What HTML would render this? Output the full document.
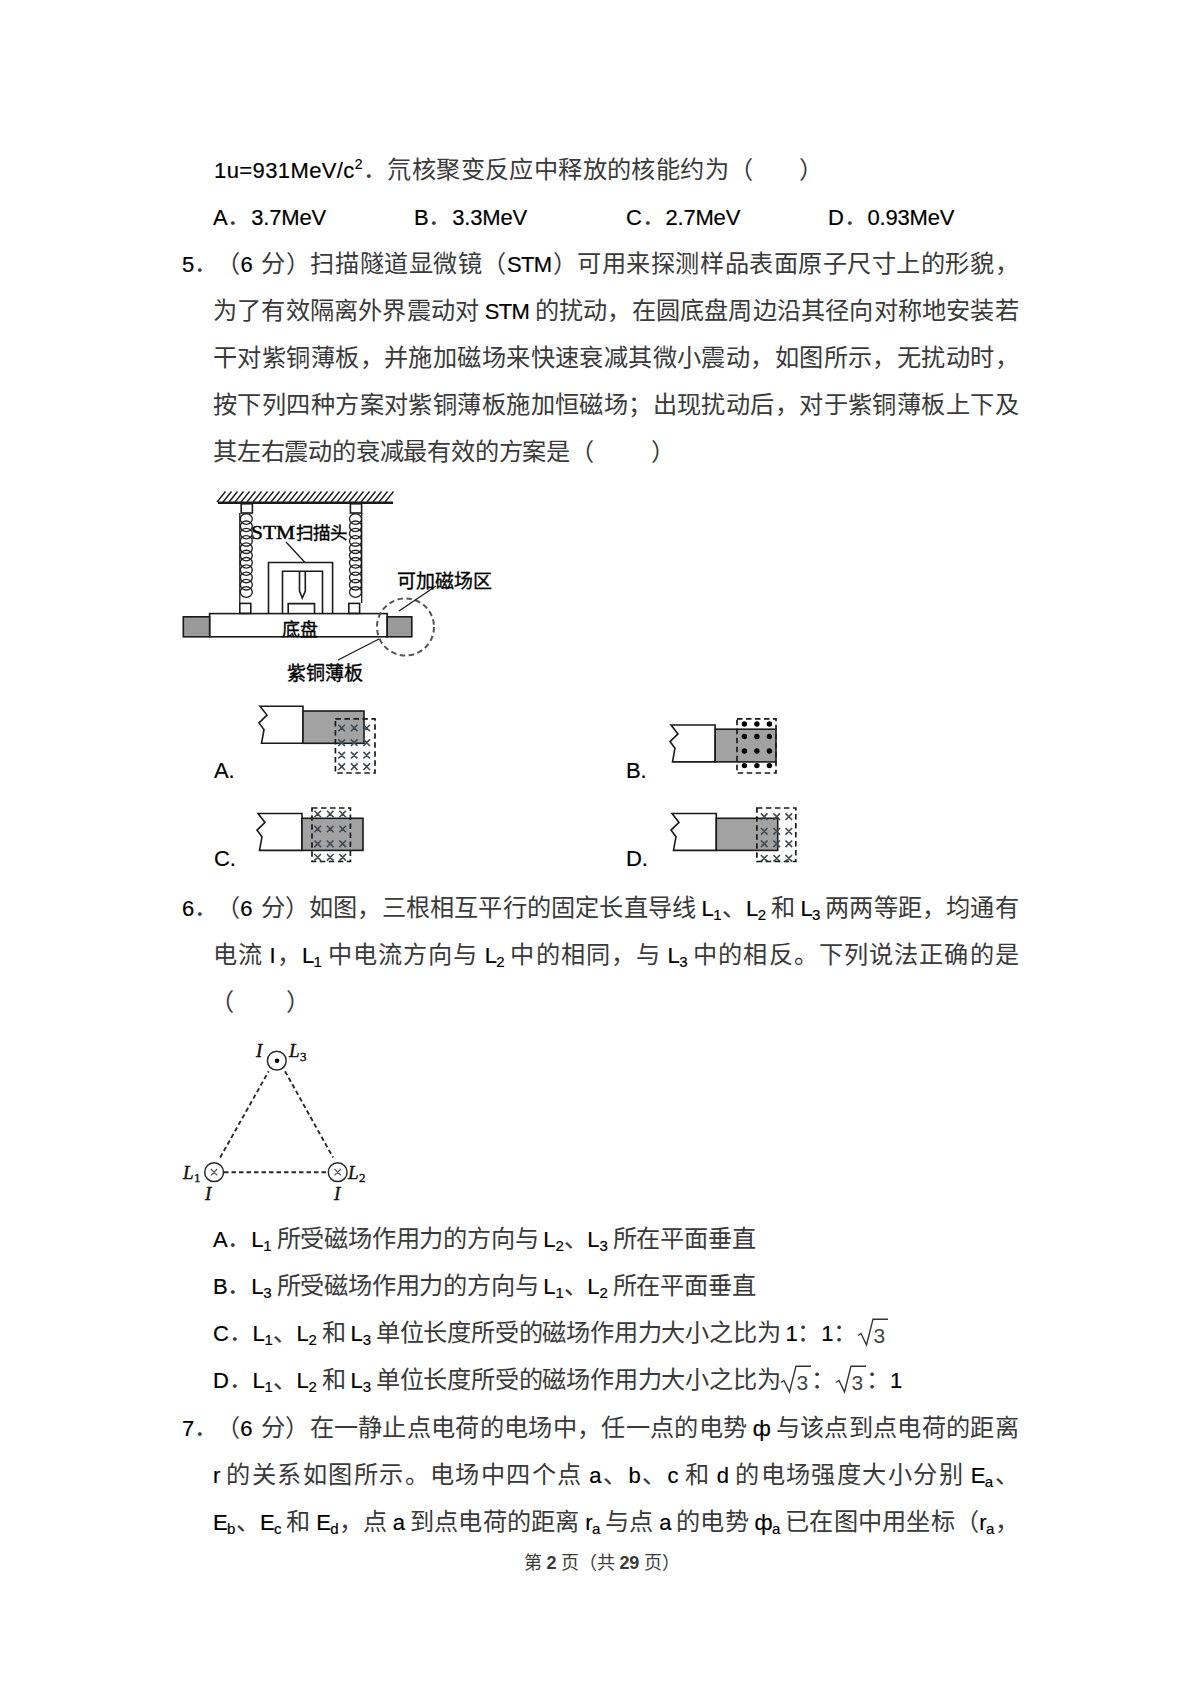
<!DOCTYPE html>
<html lang="zh-CN"><head><meta charset="utf-8">
<style>
html,body{margin:0;padding:0;background:#fff;}
body{width:1200px;height:1698px;position:relative;overflow:hidden;font-family:"Liberation Sans",sans-serif;color:#3a3a3a;}
.l{position:absolute;white-space:nowrap;font-size:24.2px;line-height:30px;word-spacing:-1.5px;letter-spacing:-0.2px;}
.e{font-size:22px;color:#000;-webkit-text-stroke:0.2px #000;}
.s{font-size:15px;vertical-align:-4px;}
.rad{position:static;display:inline-block;vertical-align:-6px;}
.p{font-size:14px;position:relative;top:-9px;}
.k{text-align:justify;text-align-last:justify;}
.j{width:805px;letter-spacing:-0.6px;text-align:justify;text-align-last:justify;white-space:nowrap;}
svg{position:absolute;left:0;top:0;}
</style></head><body>
<div class="l k" id="t1" style="left:214px;top:155px;letter-spacing:0.4px;width:609.79px"><span class="e">1u=931MeV/c<span class="p">2</span></span>．氘核聚变反应中释放的核能约为（<span style="display:inline-block;width:46px"></span>）</div>
<div class="l k" style="left:213px;top:202px;width:112.93px"><span class="e">A</span>．<span class="e">3.7MeV</span></div>
<div class="l k" style="left:414px;top:202px;width:112.93px"><span class="e">B</span>．<span class="e">3.3MeV</span></div>
<div class="l k" style="left:626px;top:202px;width:114.15px"><span class="e">C</span>．<span class="e">2.7MeV</span></div>
<div class="l k" style="left:828px;top:202px;width:126.18px"><span class="e">D</span>．<span class="e">0.93MeV</span></div>
<div class="l k" style="left:182px;top:249px;width:35.86px"><span class="e">5</span>．</div>
<div class="l j" style="left:216px;top:249px;width:802px">（<span class="e">6</span><i style="display:inline-block;width:8px"></i>分）扫描隧道显微镜（<span class="e">STM</span>）可用来探测样品表面原子尺寸上的形貌，</div>
<div class="l j" style="left:213px;top:296px">为了有效隔离外界震动对 <span class="e">STM</span> 的扰动，在圆底盘周边沿其径向对称地安装若</div>
<div class="l j" style="left:213px;top:343px">干对紫铜薄板，并施加磁场来快速衰减其微小震动，如图所示，无扰动时，</div>
<div class="l j" style="left:213px;top:390px">按下列四种方案对紫铜薄板施加恒磁场；出现扰动后，对于紫铜薄板上下及</div>
<div class="l k" style="left:213px;top:437px;width:461.63px">其左右震动的衰减最有效的方案是（<span style="display:inline-block;width:57px"></span>）</div>

<svg width="1200" height="1698" viewBox="0 0 1200 1698">
<g fill="none" stroke="#1a1a1a" stroke-width="1.6">
<path d="M217.0,502L225.5,491.5M223.0,502L231.5,491.5M229.0,502L237.5,491.5M235.0,502L243.5,491.5M241.0,502L249.5,491.5M247.0,502L255.5,491.5M253.0,502L261.5,491.5M259.0,502L267.5,491.5M265.0,502L273.5,491.5M271.0,502L279.5,491.5M277.0,502L285.5,491.5M283.0,502L291.5,491.5M289.0,502L297.5,491.5M295.0,502L303.5,491.5M301.0,502L309.5,491.5M307.0,502L315.5,491.5M313.0,502L321.5,491.5M319.0,502L327.5,491.5M325.0,502L333.5,491.5M331.0,502L339.5,491.5M337.0,502L345.5,491.5M343.0,502L351.5,491.5M349.0,502L357.5,491.5M355.0,502L363.5,491.5M361.0,502L369.5,491.5M367.0,502L375.5,491.5M373.0,502L381.5,491.5M379.0,502L387.5,491.5M385.0,502L393.5,491.5" stroke-width="1.4"/>
<path d="M218,502.8H393" stroke-width="2.4"/>
<rect x="241.2" y="503.8" width="11.2" height="9.2"/>
<rect x="350.4" y="503.8" width="11.2" height="9.2"/>
<rect x="239.8" y="603.4" width="11" height="10"/>
<rect x="348.8" y="603.4" width="10.8" height="10"/>
<g stroke="#222" stroke-width="1.35"><ellipse cx="246.3" cy="519.0" rx="6" ry="5.3"/><ellipse cx="246.3" cy="526.3" rx="6" ry="5.3"/><ellipse cx="246.3" cy="533.6" rx="6" ry="5.3"/><ellipse cx="246.3" cy="540.9" rx="6" ry="5.3"/><ellipse cx="246.3" cy="548.2" rx="6" ry="5.3"/><ellipse cx="246.3" cy="555.5" rx="6" ry="5.3"/><ellipse cx="246.3" cy="562.8" rx="6" ry="5.3"/><ellipse cx="246.3" cy="570.1" rx="6" ry="5.3"/><ellipse cx="246.3" cy="577.4" rx="6" ry="5.3"/><ellipse cx="246.3" cy="584.7" rx="6" ry="5.3"/><ellipse cx="246.3" cy="592.0" rx="6" ry="5.3"/><ellipse cx="355.5" cy="519.0" rx="6" ry="5.3"/><ellipse cx="355.5" cy="526.3" rx="6" ry="5.3"/><ellipse cx="355.5" cy="533.6" rx="6" ry="5.3"/><ellipse cx="355.5" cy="540.9" rx="6" ry="5.3"/><ellipse cx="355.5" cy="548.2" rx="6" ry="5.3"/><ellipse cx="355.5" cy="555.5" rx="6" ry="5.3"/><ellipse cx="355.5" cy="562.8" rx="6" ry="5.3"/><ellipse cx="355.5" cy="570.1" rx="6" ry="5.3"/><ellipse cx="355.5" cy="577.4" rx="6" ry="5.3"/><ellipse cx="355.5" cy="584.7" rx="6" ry="5.3"/><ellipse cx="355.5" cy="592.0" rx="6" ry="5.3"/></g>
<path d="M239.8,513V603M361.7,513V603" stroke-width="1.3"/>
<path d="M268.5,613.5V562.5H332.6V613.5"/>
<path d="M282.5,613.5V571.2H322.5V613.5"/>
<path d="M299.5,572V591L302.3,598L305.3,591V572"/>
<path d="M288.2,613.5V603.6H314.5V613.5"/>
<path d="M286,542L305,562.5" stroke-width="1.3"/>
<rect x="209.6" y="613.6" width="177.6" height="23.2"/>
<rect x="183.3" y="616.8" width="26.3" height="20" fill="#9a9a9a"/>
<rect x="387.2" y="616.8" width="24.6" height="20" fill="#9a9a9a"/>
<circle cx="405.5" cy="627" r="28.5" stroke="#555" stroke-width="2" stroke-dasharray="5.5 3.5"/>
<path d="M399,611L436,586M338,660L379,639" stroke-width="1.3"/>
</g>
<g font-family="Liberation Serif" fill="#000" stroke="#000" stroke-width="0.5">
<text x="251" y="539" font-size="19" textLength="44" lengthAdjust="spacingAndGlyphs">STM</text>
</g>
<g font-family="Liberation Sans" fill="#000" font-size="17.5" stroke="#000" stroke-width="0.35">
<text x="296" y="539" textLength="51" lengthAdjust="spacing">扫描头</text>
<text x="282" y="636" font-size="18" textLength="36" lengthAdjust="spacing">底盘</text>
<text x="287" y="680" font-size="19" textLength="76" lengthAdjust="spacing">紫铜薄板</text>
<text x="397" y="588" font-size="19" textLength="95" lengthAdjust="spacing">可加磁场区</text>
</g>
</svg>
<svg width="1200" height="1698" viewBox="0 0 1200 1698"><g stroke="#1a1a1a" stroke-width="1.6" fill="none"><path d="M260.0,706.2 L267.0,715.1 L259.0,722.9 L264.0,729.6 L261.5,743.3 H303.0 V706.2 Z" fill="#fff"/><rect x="303.0" y="711.0" width="61.0" height="32.3" fill="#a2a2a2"/><path d="M338.4,724.7L345.0,731.3M338.4,731.3L345.0,724.7M338.4,739.4L345.0,746.0M338.4,746.0L345.0,739.4M338.4,751.9L345.0,758.5M338.4,758.5L345.0,751.9M338.4,763.4L345.0,770.0M338.4,770.0L345.0,763.4M350.9,724.7L357.5,731.3M350.9,731.3L357.5,724.7M350.9,739.4L357.5,746.0M350.9,746.0L357.5,739.4M350.9,751.9L357.5,758.5M350.9,758.5L357.5,751.9M350.9,763.4L357.5,770.0M350.9,770.0L357.5,763.4M363.4,724.7L370.0,731.3M363.4,731.3L370.0,724.7M363.4,739.4L370.0,746.0M363.4,746.0L370.0,739.4M363.4,751.9L370.0,758.5M363.4,758.5L370.0,751.9M363.4,763.4L370.0,770.0M363.4,770.0L370.0,763.4" stroke="#3c4a52" stroke-width="1.6"/><rect x="335.4" y="718.8" width="39.6" height="54.2" fill="none" stroke-dasharray="5.5 3.5" stroke-width="1.7"/><path d="M258.0,813.5 L265.0,822.4 L257.0,830.1 L262.0,836.7 L259.5,850.4 H302.0 V813.5 Z" fill="#fff"/><rect x="302.0" y="818.3" width="61.0" height="32.1" fill="#a2a2a2"/><path d="M314.4,810.7L321.0,817.3M314.4,817.3L321.0,810.7M314.4,825.7L321.0,832.3M314.4,832.3L321.0,825.7M314.4,840.5L321.0,847.1M314.4,847.1L321.0,840.5M314.4,854.0L321.0,860.6M314.4,860.6L321.0,854.0M326.9,810.7L333.5,817.3M326.9,817.3L333.5,810.7M326.9,825.7L333.5,832.3M326.9,832.3L333.5,825.7M326.9,840.5L333.5,847.1M326.9,847.1L333.5,840.5M326.9,854.0L333.5,860.6M326.9,860.6L333.5,854.0M339.4,810.7L346.0,817.3M339.4,817.3L346.0,810.7M339.4,825.7L346.0,832.3M339.4,832.3L346.0,825.7M339.4,840.5L346.0,847.1M339.4,847.1L346.0,840.5M339.4,854.0L346.0,860.6M339.4,860.6L346.0,854.0" stroke="#3c4a52" stroke-width="1.6"/><rect x="312.0" y="808.0" width="38.4" height="53.5" fill="none" stroke-dasharray="5.5 3.5" stroke-width="1.7"/><path d="M671.0,725.0 L678.0,733.9 L670.0,741.6 L675.0,748.2 L672.5,761.9 H715.2 V725.0 Z" fill="#fff"/><rect x="715.2" y="729.2" width="60.8" height="32.7" fill="#a2a2a2"/><circle cx="744.4" cy="724.0" r="2.7" fill="#000" stroke="none"/><circle cx="744.4" cy="736.5" r="2.7" fill="#000" stroke="none"/><circle cx="744.4" cy="751.0" r="2.7" fill="#000" stroke="none"/><circle cx="744.4" cy="765.6" r="2.7" fill="#000" stroke="none"/><circle cx="756.9" cy="724.0" r="2.7" fill="#000" stroke="none"/><circle cx="756.9" cy="736.5" r="2.7" fill="#000" stroke="none"/><circle cx="756.9" cy="751.0" r="2.7" fill="#000" stroke="none"/><circle cx="756.9" cy="765.6" r="2.7" fill="#000" stroke="none"/><circle cx="769.4" cy="724.0" r="2.7" fill="#000" stroke="none"/><circle cx="769.4" cy="736.5" r="2.7" fill="#000" stroke="none"/><circle cx="769.4" cy="751.0" r="2.7" fill="#000" stroke="none"/><circle cx="769.4" cy="765.6" r="2.7" fill="#000" stroke="none"/><rect x="737.0" y="718.8" width="39.0" height="54.2" fill="none" stroke-dasharray="5.5 3.5" stroke-width="1.7"/><path d="M672.0,813.5 L679.0,822.4 L671.0,830.1 L676.0,836.7 L673.5,850.4 H716.3 V813.5 Z" fill="#fff"/><rect x="716.3" y="818.3" width="61.4" height="32.1" fill="#a2a2a2"/><path d="M760.9,813.4L767.5,820.0M760.9,820.0L767.5,813.4M760.9,828.0L767.5,834.6M760.9,834.6L767.5,828.0M760.9,840.5L767.5,847.1M760.9,847.1L767.5,840.5M760.9,855.0L767.5,861.6M760.9,861.6L767.5,855.0M773.4,813.4L780.0,820.0M773.4,820.0L780.0,813.4M773.4,828.0L780.0,834.6M773.4,834.6L780.0,828.0M773.4,840.5L780.0,847.1M773.4,847.1L780.0,840.5M773.4,855.0L780.0,861.6M773.4,861.6L780.0,855.0M785.5,813.4L792.1,820.0M785.5,820.0L792.1,813.4M785.5,828.0L792.1,834.6M785.5,834.6L792.1,828.0M785.5,840.5L792.1,847.1M785.5,847.1L792.1,840.5M785.5,855.0L792.1,861.6M785.5,861.6L792.1,855.0" stroke="#3c4a52" stroke-width="1.6"/><rect x="756.9" y="808.0" width="38.9" height="53.5" fill="none" stroke-dasharray="5.5 3.5" stroke-width="1.7"/></g></svg>
<div class="l" style="left:214px;top:755px"><span class="e">A.</span></div>
<div class="l" style="left:626px;top:755px"><span class="e">B.</span></div>
<div class="l" style="left:214px;top:843px"><span class="e">C.</span></div>
<div class="l" style="left:626px;top:843px"><span class="e">D.</span></div>

<div class="l k" style="left:182px;top:893px;width:35.86px"><span class="e">6</span>．</div>
<div class="l j" style="left:216px;top:893px;width:802px">（<span class="e">6</span><i style="display:inline-block;width:8px"></i>分）如图，三根相互平行的固定长直导线 <span class="e">L<span class="s">1</span></span>、<span class="e">L<span class="s">2</span></span> 和 <span class="e">L<span class="s">3</span></span> 两两等距，均通有</div>
<div class="l j" style="left:213px;top:940px">电流 <span class="e">I</span>，<span class="e">L<span class="s">1</span></span> 中电流方向与 <span class="e">L<span class="s">2</span></span> 中的相同，与 <span class="e">L<span class="s">3</span></span> 中的相反。下列说法正确的是</div>
<div class="l k" style="left:210px;top:987px;width:99.63px">（<span style="display:inline-block;width:52px"></span>）</div>

<svg width="1200" height="1698" viewBox="0 0 1200 1698">
<g fill="none" stroke="#2a2a2a" stroke-width="1.5">
<path d="M224,1172.2H328" stroke-dasharray="4.5 3" stroke-width="1.9"/>
<path d="M220.2,1157.5L268.7,1071.2M285,1071.2L333,1157.5" stroke-dasharray="4.5 3" stroke-width="1.9"/>
<circle cx="276.8" cy="1060.7" r="9.4"/>
<circle cx="214.1" cy="1172.2" r="9.4"/>
<circle cx="337.7" cy="1172.2" r="9.4"/>
<path d="M210.9,1169L217.3,1175.4M210.9,1175.4L217.3,1169M334.5,1169L340.9,1175.4M334.5,1175.4L340.9,1169" stroke-width="1.2" stroke="#555"/>
</g>
<circle cx="277" cy="1060.8" r="2.3" fill="#000"/>
<g font-family="Liberation Serif" font-style="italic" fill="#111" font-size="19" stroke="#111" stroke-width="0.4">
<text x="256" y="1057">I</text>
<text x="289" y="1057">L</text><text x="300" y="1061" font-size="13" font-style="normal">3</text>
<text x="183" y="1179">L</text><text x="194" y="1182" font-size="13" font-style="normal">1</text>
<text x="205" y="1200">I</text>
<text x="348" y="1179">L</text><text x="359" y="1182" font-size="13" font-style="normal">2</text>
<text x="334" y="1200">I</text>
</g>
</svg>
<div class="l k" style="left:213px;top:1224px;width:542.40px"><span class="e">A</span>．<span class="e">L<span class="s">1</span></span> 所受磁场作用力的方向与 <span class="e">L<span class="s">2</span></span>、<span class="e">L<span class="s">3</span></span> 所在平面垂直</div>
<div class="l k" style="left:213px;top:1271px;width:542.40px"><span class="e">B</span>．<span class="e">L<span class="s">3</span></span> 所受磁场作用力的方向与 <span class="e">L<span class="s">1</span></span>、<span class="e">L<span class="s">2</span></span> 所在平面垂直</div>
<div class="l k" style="left:213px;top:1318px;width:675.15px"><span class="e">C</span>．<span class="e">L<span class="s">1</span></span>、<span class="e">L<span class="s">2</span></span> 和 <span class="e">L<span class="s">3</span></span> 单位长度所受的磁场作用力大小之比为 <span class="e">1</span>：<span class="e">1</span>：<svg class="rad" width="31" height="29" viewBox="0 0 31 29"><path d="M1,17.5L4,15.5L9.5,27L16,1.2H31" fill="none" stroke="#333" stroke-width="1.4"/><text x="16.5" y="24.5" font-family="Liberation Sans" font-size="21" fill="#444">3</text></svg></div>
<div class="l k" style="left:213px;top:1365px;width:689.08px"><span class="e">D</span>．<span class="e">L<span class="s">1</span></span>、<span class="e">L<span class="s">2</span></span> 和 <span class="e">L<span class="s">3</span></span> 单位长度所受的磁场作用力大小之比为<svg class="rad" width="31" height="29" viewBox="0 0 31 29"><path d="M1,17.5L4,15.5L9.5,27L16,1.2H31" fill="none" stroke="#333" stroke-width="1.4"/><text x="16.5" y="24.5" font-family="Liberation Sans" font-size="21" fill="#444">3</text></svg>：<svg class="rad" width="31" height="29" viewBox="0 0 31 29"><path d="M1,17.5L4,15.5L9.5,27L16,1.2H31" fill="none" stroke="#333" stroke-width="1.4"/><text x="16.5" y="24.5" font-family="Liberation Sans" font-size="21" fill="#444">3</text></svg>：<span class="e">1</span></div>

<div class="l k" style="left:182px;top:1413px;width:35.86px"><span class="e">7</span>．</div>
<div class="l j" style="left:216px;top:1413px;width:802px">（<span class="e">6</span><i style="display:inline-block;width:8px"></i>分）在一静止点电荷的电场中，任一点的电势 <span class="e">ф</span> 与该点到点电荷的距离</div>
<div class="l j" style="left:213px;top:1460px"><span class="e">r</span> 的关系如图所示。电场中四个点 <span class="e">a</span>、<span class="e">b</span>、<span class="e">c</span> 和 <span class="e">d</span> 的电场强度大小分别 <span class="e">E<span class="s">a</span></span>、</div>
<div class="l j" style="left:213px;top:1507px"><span class="e">E<span class="s">b</span></span>、<span class="e">E<span class="s">c</span></span> 和 <span class="e">E<span class="s">d</span></span>，点 <span class="e">a</span> 到点电荷的距离 <span class="e">r<span class="s">a</span></span> 与点 <span class="e">a</span> 的电势 <span class="e">ф<span class="s">a</span></span> 已在图中用坐标（<span class="e">r<span class="s">a</span></span>，</div>

<div class="l k" style="left:524px;top:1550px;font-size:18px;line-height:26px;word-spacing:0;width:155.47px">第 <b>2</b> 页（共 <b>29</b> 页）</div>
</body></html>
